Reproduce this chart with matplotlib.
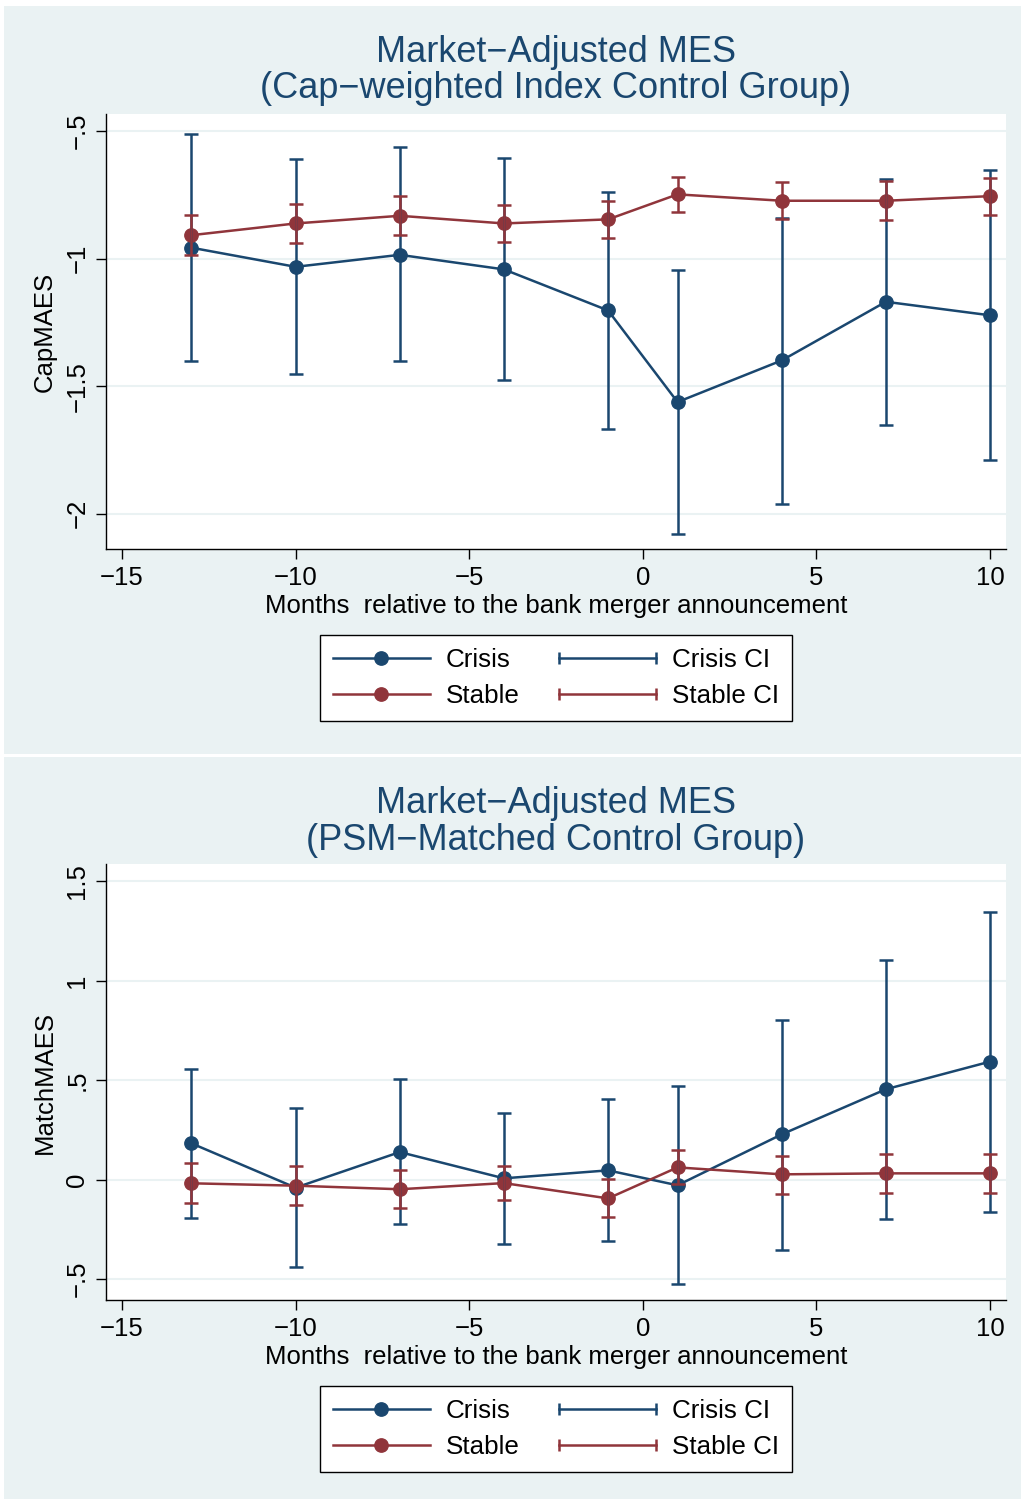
import matplotlib
matplotlib.use("Agg")
import matplotlib.pyplot as plt
from matplotlib.lines import Line2D
from matplotlib.patches import Rectangle
from matplotlib.legend_handler import HandlerLine2D

plt.rcParams['font.family'] = ['Liberation Sans', 'DejaVu Sans']

# ---------------- data ----------------
months = [-13, -10, -7, -4, -1, 1, 4, 7, 10]

# Panel 1: Cap-weighted index control group
cap_crisis = [-0.957, -1.032, -0.985, -1.042, -1.203, -1.562, -1.399, -1.169, -1.222]
cap_crisis_hi = [-0.513, -0.611, -0.564, -0.607, -0.738, -1.045, -0.840, -0.689, -0.654]
cap_crisis_lo = [-1.402, -1.451, -1.402, -1.476, -1.668, -2.079, -1.962, -1.651, -1.790]
cap_stable = [-0.908, -0.862, -0.832, -0.862, -0.846, -0.748, -0.773, -0.773, -0.755]
cap_stable_hi = [-0.830, -0.785, -0.756, -0.789, -0.774, -0.680, -0.701, -0.695, -0.683]
cap_stable_lo = [-0.986, -0.939, -0.906, -0.935, -0.919, -0.816, -0.844, -0.849, -0.829]

# Panel 2: PSM-matched control group
psm_crisis = [0.183, -0.040, 0.139, 0.007, 0.047, -0.028, 0.228, 0.455, 0.594]
psm_crisis_hi = [0.555, 0.361, 0.505, 0.334, 0.404, 0.473, 0.803, 1.105, 1.348]
psm_crisis_lo = [-0.191, -0.441, -0.223, -0.325, -0.308, -0.526, -0.352, -0.196, -0.162]
psm_stable = [-0.018, -0.030, -0.048, -0.017, -0.094, 0.062, 0.027, 0.032, 0.032]
psm_stable_hi = [0.082, 0.067, 0.047, 0.070, 0.002, 0.149, 0.121, 0.129, 0.129]
psm_stable_lo = [-0.119, -0.127, -0.144, -0.104, -0.188, -0.022, -0.070, -0.065, -0.065]

xticks = [-15, -10, -5, 0, 5, 10]
xtick_labels = ['\u221215', '\u221210', '\u22125', '0', '5', '10']
cap_yticks = [-0.5, -1, -1.5, -2]
cap_ytick_labels = ['\u2212.5', '\u22121', '\u22121.5', '\u22122']
psm_yticks = [-0.5, 0, 0.5, 1, 1.5]
psm_ytick_labels = ['\u2212.5', '0', '.5', '1', '1.5']

titles1 = ['Market\u2212Adjusted MES', '(Cap\u2212weighted Index Control Group)']
titles2 = ['Market\u2212Adjusted MES', '(PSM\u2212Matched Control Group)']
xlabel = 'Months  relative to the bank merger announcement'
legend_labels = ['Crisis', 'Stable', 'Crisis CI', 'Stable CI']

# ---------------- style ----------------
NAVY = '#1a476f'
MAROON = '#90353b'
BG = '#eaf2f3'
W, H = 1021, 1499

fig = plt.figure(figsize=(W / 100, H / 100), dpi=100, facecolor='white')

# panel backgrounds
fig.patches.append(Rectangle((4 / W, 1 - 754 / H), 1 - 4 / W, (754 - 6) / H,
                             transform=fig.transFigure, facecolor=BG, edgecolor='none', zorder=-5))
fig.patches.append(Rectangle((4 / W, 0), 1 - 4 / W, 1 - 757 / H,
                             transform=fig.transFigure, facecolor=BG, edgecolor='none', zorder=-5))


def fy(py):
    return 1 - py / H


def make_panel(top_px, bot_px, crisis, c_hi, c_lo, stable, s_hi, s_lo,
               yticks, ylabels, ylim, ylab, titles, title_y, xlab_y, leg_y):
    left, right = 106, 1006
    ax = fig.add_axes([left / W, fy(bot_px), (right - left) / W, (bot_px - top_px) / H])
    ax.set_zorder(1)
    ax.set_facecolor('white')
    ax.set_xlim(-15.46, 10.46)
    ax.set_ylim(*ylim)
    for y in yticks:
        ax.axhline(y, color=BG, lw=1.5, zorder=0.5)
    for s in ['top', 'right']:
        ax.spines[s].set_visible(False)
    for s in ['left', 'bottom']:
        ax.spines[s].set_color('black')
        ax.spines[s].set_linewidth(1.0)

    ax.set_xticks(xticks)
    ax.set_xticklabels(xtick_labels)
    ax.set_yticks(yticks)
    ax.set_yticklabels(ylabels, rotation=90, va='center')
    ax.tick_params(axis='both', direction='out', length=7, width=1.0, color='black',
                   labelsize=18.5, labelcolor='black')
    ax.tick_params(axis='x', pad=5)
    ax.tick_params(axis='y', pad=5)

    ax.plot(months, crisis, color=NAVY, lw=1.8, marker='o', ms=9.6, zorder=3)
    ax.plot(months, stable, color=MAROON, lw=1.8, marker='o', ms=9.6, zorder=3)
    c_err = [[c - l for c, l in zip(crisis, c_lo)], [h - c for c, h in zip(crisis, c_hi)]]
    s_err = [[c - l for c, l in zip(stable, s_lo)], [h - c for c, h in zip(stable, s_hi)]]
    ax.errorbar(months, crisis, yerr=c_err, fmt='none', ecolor=NAVY, elinewidth=1.8,
                capsize=4.8, capthick=1.8, zorder=4)
    ax.errorbar(months, stable, yerr=s_err, fmt='none', ecolor=MAROON, elinewidth=1.8,
                capsize=4.8, capthick=1.8, zorder=4)

    cx = (left + right) / 2 / W
    fig.text(cx, fy(title_y[0]), titles[0], ha='center', va='center', fontsize=26, color=NAVY)
    fig.text(cx, fy(title_y[1]), titles[1], ha='center', va='center', fontsize=26, color=NAVY)
    fig.text(cx, fy(xlab_y), xlabel, ha='center', va='center', fontsize=18.5, color='black')
    fig.text(45 / W, fy((top_px + bot_px) / 2), ylab, ha='center', va='center',
             rotation=90, fontsize=18.5, color='black')

    h1 = Line2D([], [], color=NAVY, lw=1.8, marker='o', ms=9.6)
    h2 = Line2D([], [], color=MAROON, lw=1.8, marker='o', ms=9.6)
    h3 = Line2D([], [], color=NAVY, lw=1.8, marker='|', ms=9, mew=1.8)
    h4 = Line2D([], [], color=MAROON, lw=1.8, marker='|', ms=9, mew=1.8)
    leg = fig.legend([h1, h2, h3, h4], legend_labels, ncol=2, loc='center',
                     bbox_to_anchor=(556 / W, fy(leg_y)), fontsize=18.7,
                     frameon=True, fancybox=False, framealpha=1, edgecolor='black',
                     handlelength=3.75, handletextpad=0.62, columnspacing=1.5,
                     labelspacing=0.45, borderpad=0.5, borderaxespad=0,
                     handler_map={h1: HandlerLine2D(numpoints=1), h2: HandlerLine2D(numpoints=1),
                                  h3: HandlerLine2D(numpoints=2, marker_pad=0),
                                  h4: HandlerLine2D(numpoints=2, marker_pad=0)})
    leg.get_frame().set_linewidth(1.0)
    leg.set_zorder(2)
    return ax


# y limits derived from the pixel frame of each plot region
make_panel(114, 549, cap_crisis, cap_crisis_hi, cap_crisis_lo,
           cap_stable, cap_stable_hi, cap_stable_lo,
           cap_yticks, cap_ytick_labels, (-2.138, -0.433), 'CapMAES',
           titles1, (52, 89), 606, 678)
make_panel(864, 1300, psm_crisis, psm_crisis_hi, psm_crisis_lo,
           psm_stable, psm_stable_hi, psm_stable_lo,
           psm_yticks, psm_ytick_labels, (-0.605, 1.588), 'MatchMAES',
           titles2, (803, 840), 1357, 1429)

fig.savefig('out.png', dpi=100, facecolor='white')
